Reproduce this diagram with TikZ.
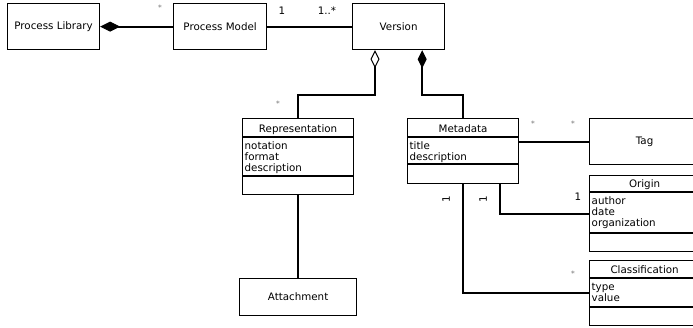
\documentclass[tikz,border=0pt]{standalone}
\usepackage{fontspec}
\setmainfont{DejaVu Sans}
\usetikzlibrary{arrows.meta}

% class box: name, x, y, width, height, title rule, attribute rule, title, attributes
\newcommand\umlclass[9]{%
  \node[box,minimum width=#4pt,minimum height=#5pt] (#1) at (#2,#3) {};
  \draw[rule] ([yshift=-#6pt]#1.north west) -- ([yshift=-#6pt]#1.north east);
  \draw[rule] ([yshift=-#7pt]#1.north west) -- ([yshift=-#7pt]#1.north east);
  \node[lbl,inner sep=0pt,anchor=base] (#1-title) at ([yshift={-(#6-5)*1pt}]#1.north) {#8};
  \foreach \a [count=\i] in {#9}
    \node[lbl,inner sep=0pt,anchor=base west] (#1-a\i) at ([xshift=2.5pt,yshift={-(#6+12+11*(\i-1))*1pt}]#1.north west) {\a};
}

\begin{document}
\begin{tikzpicture}[x=1pt,y=-1pt,
  box/.style={draw,line width=1.2pt,inner sep=0pt,anchor=north west,fill=white},
  rule/.style={line width=1.2pt},
  lbl/.style={font=\fontsize{10.3}{11}\selectfont},
  conn/.style={line width=1.9pt},
  mult/.style={font=\fontsize{10.3}{11}\selectfont,inner sep=0pt},
  star/.style={font=\fontsize{7.5}{8}\selectfont,text=black!55,inner sep=0pt},
  comp/.style={{Diamond[length=20pt,width=10pt,line width=1pt]}-},
  compv/.style={{Diamond[length=18pt,width=9pt,line width=1pt]}-},
  aggr/.style={{Diamond[open,length=18pt,width=9pt,line width=1pt]}-}
]
\useasboundingbox (0,0) rectangle (693,327);
\clip (0,0) rectangle (693,327);

% plain boxes
\node[box,lbl,minimum width=92pt,minimum height=46pt] (lib) at (7,3) {Process Library};
\node[box,lbl,minimum width=93pt,minimum height=46pt] (pm) at (173,3) {Process Model};
\node[box,lbl,minimum width=92pt,minimum height=46pt] (ver) at (352,3) {Version};
\node[box,lbl,minimum width=110pt,minimum height=46pt] (tag) at (589,118) {Tag};
\node[box,lbl,minimum width=117pt,minimum height=37pt] (att) at (239,278) {Attachment};

% classes with attributes
\umlclass{rep}{242}{118}{111}{76}{19}{58}{Representation}{notation,format,description}
\umlclass{met}{407}{118}{111}{65}{19}{46}{Metadata}{title,description}
\umlclass{ori}{589}{175}{110}{76}{17}{58}{Origin}{author,date,organization}
\umlclass{cls}{589}{260}{110}{65}{18}{47}{Classification}{type,value}

% associations
\draw[conn,comp] (lib.east) -- (pm.west);
\draw[conn] (pm.east) -- (ver.west);
\draw[conn,aggr] ([xshift=23pt]ver.south west) -- ++(0,45) -| (rep.north);
\draw[conn,compv] ([xshift=-23pt]ver.south east) -- ++(0,45) -| (met.north);
\draw[conn] (rep.south) -- (att.north);
\draw[conn] (met.east |- tag.west) -- (tag.west);
\draw[conn] ([xshift=-19pt]met.south east) |- (ori.west);
\draw[conn] (met.south) |- (cls.west);

% multiplicities
\node[star] (m-lib) at (160,8) {*};
\node[mult] (m-pm) at (282,11) {1};
\node[mult] (m-ver) at (327,11) {1..*};
\node[star] (m-rep) at (278,104) {*};
\node[star] (m-met-tag) at (533,124) {*};
\node[star] (m-tag) at (573,124) {*};
\node[mult] (m-ori) at (578,197) {1};
\node[mult,rotate=90] (m-met-cls) at (446,199) {1};
\node[mult,rotate=90] (m-met-ori) at (483,199) {1};
\node[star] (m-cls) at (573,274) {*};
\end{tikzpicture}
\end{document}
